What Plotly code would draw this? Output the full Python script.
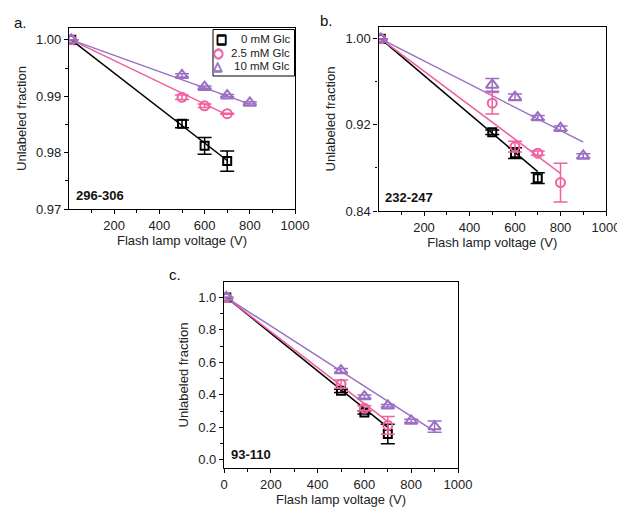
import plotly.graph_objects as go

# ---------------- data ----------------
series_names = ["0 mM Glc", "2.5 mM Glc", "10 mM Glc"]
legend_symbols = ["\u25a1", "\u25cb", "\u25b3"]

# panel a (296-306)
a_x0 = [10, 500, 600, 700]
a_y0 = [1.0, 0.9851, 0.9812, 0.9785]
a_e0 = [0.0, 0.0007, 0.0015, 0.0018]
a_x1 = [10, 500, 600, 700]
a_y1 = [1.0, 0.9898, 0.9883, 0.9869]
a_e1 = [0.0, 0.0004, 0.0003, 0.0001]
a_x2 = [10, 500, 600, 700, 800]
a_y2 = [1.0, 0.9937, 0.9916, 0.9901, 0.9888]
a_e2 = [0.0, 0.0003, 0.0002, 0.0002, 0.0002]
a_fit_x = [[10, 700], [10, 700], [10, 800]]
a_fit_y = [[1.0, 0.9786], [1.0, 0.9867], [1.0, 0.9886]]

# panel b (232-247)
b_x0 = [10, 500, 600, 700]
b_y0 = [1.0, 0.9132, 0.8937, 0.8705]
b_e0 = [0.0, 0.002, 0.005, 0.005]
b_x1 = [10, 500, 600, 700, 800]
b_y1 = [1.0, 0.9402, 0.8998, 0.8937, 0.8664]
b_e1 = [0.0, 0.010, 0.005, 0.002, 0.018]
b_x2 = [10, 500, 600, 700, 800, 900]
b_y2 = [1.0, 0.9572, 0.9458, 0.9268, 0.9169, 0.8912]
b_e2 = [0.0, 0.006, 0.003, 0.002, 0.002, 0.002]
b_fit_x = [[10, 700], [10, 800], [10, 900]]
b_fit_y = [[1.0, 0.8766], [1.0, 0.8750], [1.0, 0.9040]]

# panel c (93-110)
c_x0 = [10, 500, 600, 700]
c_y0 = [1.0, 0.425, 0.292, 0.16]
c_e0 = [0.0, 0.01, 0.01, 0.06]
c_x1 = [10, 500, 600, 700]
c_y1 = [1.0, 0.466, 0.318, 0.212]
c_e1 = [0.0, 0.025, 0.015, 0.055]
c_x2 = [10, 500, 600, 700, 800, 900]
c_y2 = [1.0, 0.55, 0.39, 0.333, 0.24, 0.205]
c_e2 = [0.0, 0.012, 0.01, 0.008, 0.01, 0.035]
c_fit_x = [[10, 700], [10, 700], [10, 900]]
c_fit_y = [[1.0, 0.20], [1.0, 0.235], [1.0, 0.175]]

panel_labels = ["a.", "b.", "c."]
fragment_labels = ["296-306", "232-247", "93-110"]

# ---------------- style ----------------
COLORS = ["#000000", "#F0609F", "#9B6FC3"]
SYMBOLS = ["square-open", "circle-open", "triangle-up-open"]
SIZES = [8, 9, 11]
FONT = "Liberation Sans, Arial, sans-serif"
OFF = 8  # page body margin offsets the plot div by 8px
W, H = 625 - OFF, 508 - OFF

fig = go.Figure()

panels = [
    ("x", "y", [(a_x0, a_y0, a_e0), (a_x1, a_y1, a_e1), (a_x2, a_y2, a_e2)], a_fit_x, a_fit_y),
    ("x2", "y2", [(b_x0, b_y0, b_e0), (b_x1, b_y1, b_e1), (b_x2, b_y2, b_e2)], b_fit_x, b_fit_y),
    ("x3", "y3", [(c_x0, c_y0, c_e0), (c_x1, c_y1, c_e1), (c_x2, c_y2, c_e2)], c_fit_x, c_fit_y),
]

for p, (xa, ya, sers, fx, fy) in enumerate(panels):
    for i in range(3):
        fig.add_trace(go.Scatter(
            x=fx[i], y=fy[i], mode="lines", xaxis=xa, yaxis=ya,
            line=dict(color=COLORS[i], width=1.5), showlegend=False, hoverinfo="skip"))
    for i, (sx, sy, se) in enumerate(sers):
        fig.add_trace(go.Scatter(
            x=sx, y=sy, mode="markers", xaxis=xa, yaxis=ya,
            name=series_names[i], showlegend=False,
            marker=dict(symbol=SYMBOLS[i], size=SIZES[i], color=COLORS[i],
                        line=dict(color=COLORS[i], width=2)),
            error_y=dict(type="data", array=se, visible=True, color=COLORS[i],
                         thickness=1.5, width=7)))

axis_common = dict(
    showline=True, linecolor="black", linewidth=1.3, mirror=True,
    ticks="outside", ticklen=4, tickwidth=1.2, tickcolor="black",
    showgrid=False, zeroline=False, automargin=False,
    tickfont=dict(family=FONT, size=13, color="#222"),
    title_font=dict(family=FONT, size=13, color="#222"),
)
minor_common = dict(ticks="outside", ticklen=2.5, tickwidth=1, tickcolor="black", showgrid=False)


def px_x(v):
    return (v - OFF) / W


def px_y(v):
    return 1 - (v - OFF) / H


doms = [
    ([px_x(69), px_x(295)], [px_y(209), px_y(28)]),
    ([px_x(378.5), px_x(606)], [px_y(211), px_y(27)]),
    ([px_x(224), px_x(458)], [px_y(468), px_y(282)]),
]

xtick_ab = [200, 400, 600, 800, 1000]
xtick_c = [0, 200, 400, 600, 800, 1000]
xminor = [100, 300, 500, 700, 900]

fig.update_layout(
    xaxis=dict(axis_common, domain=doms[0][0], anchor="y", range=[0, 1000],
               tickvals=xtick_ab, minor=dict(minor_common, tickvals=xminor),
               title=dict(text="Flash lamp voltage (V)", standoff=4)),
    yaxis=dict(axis_common, domain=doms[0][1], anchor="x", range=[0.97, 1.0021],
               tickvals=[0.97, 0.98, 0.99, 1.00], ticktext=["0.97", "0.98", "0.99", "1.00"],
               minor=dict(minor_common, tickvals=[0.975, 0.985, 0.995]),
               title=dict(text="Unlabeled fraction", standoff=6)),
    xaxis2=dict(axis_common, domain=doms[1][0], anchor="y2", range=[0, 1000],
                tickvals=xtick_ab, minor=dict(minor_common, tickvals=xminor),
                title=dict(text="Flash lamp voltage (V)", standoff=4)),
    yaxis2=dict(axis_common, domain=doms[1][1], anchor="x2", range=[0.84, 1.011],
                tickvals=[0.84, 0.92, 1.00], ticktext=["0.84", "0.92", "1.00"],
                minor=dict(minor_common, tickvals=[0.88, 0.96]),
                title=dict(text="Unlabeled fraction", standoff=6)),
    xaxis3=dict(axis_common, domain=doms[2][0], anchor="y3", range=[0, 1000],
                tickvals=xtick_c, minor=dict(minor_common, tickvals=xminor),
                title=dict(text="Flash lamp voltage (V)", standoff=4)),
    yaxis3=dict(axis_common, domain=doms[2][1], anchor="x3", range=[-0.05, 1.095],
                tickvals=[0, 0.2, 0.4, 0.6, 0.8, 1.0],
                ticktext=["0.0", "0.2", "0.4", "0.6", "0.8", "1.0"],
                minor=dict(minor_common, tickvals=[0.1, 0.3, 0.5, 0.7, 0.9]),
                title=dict(text="Unlabeled fraction", standoff=6)),
    width=W, height=H,
    margin=dict(l=0, r=0, t=0, b=0),
    paper_bgcolor="white", plot_bgcolor="white",
    font=dict(family=FONT, size=13, color="#222"),
    showlegend=False,
)

# compact legend box in panel a (text-based, top-right)
fig.add_shape(type="rect", xref="paper", yref="paper",
              x0=px_x(213), x1=px_x(294.5), y0=px_y(76), y1=px_y(29.5),
              line=dict(color="black", width=1), fillcolor="white", layer="above")
row_y = [39.5, 53, 66]
sym_x = [221, 217.5, 217.5]
for i in range(3):
    c = COLORS[i]
    sh = f"0.6px 0 0 {c}, -0.6px 0 0 {c}, 0 0.6px 0 {c}, 0 -0.6px 0 {c}"
    fig.add_annotation(text=legend_symbols[i], x=px_x(sym_x[i]), y=px_y(row_y[i]),
                       xref="paper", yref="paper", showarrow=False,
                       xanchor="center", yanchor="middle",
                       font=dict(family="DejaVu Sans", size=12, color=c, shadow=sh))
    fig.add_annotation(text=series_names[i], x=px_x(292), y=px_y(row_y[i]),
                       xref="paper", yref="paper", showarrow=False,
                       xanchor="right", yanchor="middle",
                       font=dict(family=FONT, size=11.5, color="#222"))

# panel letters
letter_pos = [(12, 22), (318, 20), (167, 274)]
for lab, (lx, ly) in zip(panel_labels, letter_pos):
    fig.add_annotation(text=lab, x=px_x(lx), y=px_y(ly), xref="paper", yref="paper",
                       showarrow=False, xanchor="left", yanchor="middle",
                       font=dict(family=FONT, size=15, color="#111"))

# fragment labels inside the plots (bottom-left)
for k, lab in enumerate(fragment_labels):
    xd = "x domain" if k == 0 else f"x{k+1} domain"
    yd = "y domain" if k == 0 else f"y{k+1} domain"
    fig.add_annotation(text=f"<b>{lab}</b>", x=0.02, y=0.02, xref=xd, yref=yd,
                       showarrow=False, xanchor="left", yanchor="bottom",
                       font=dict(family=FONT, size=13, color="#111"))

fig.write_html("out.html")
